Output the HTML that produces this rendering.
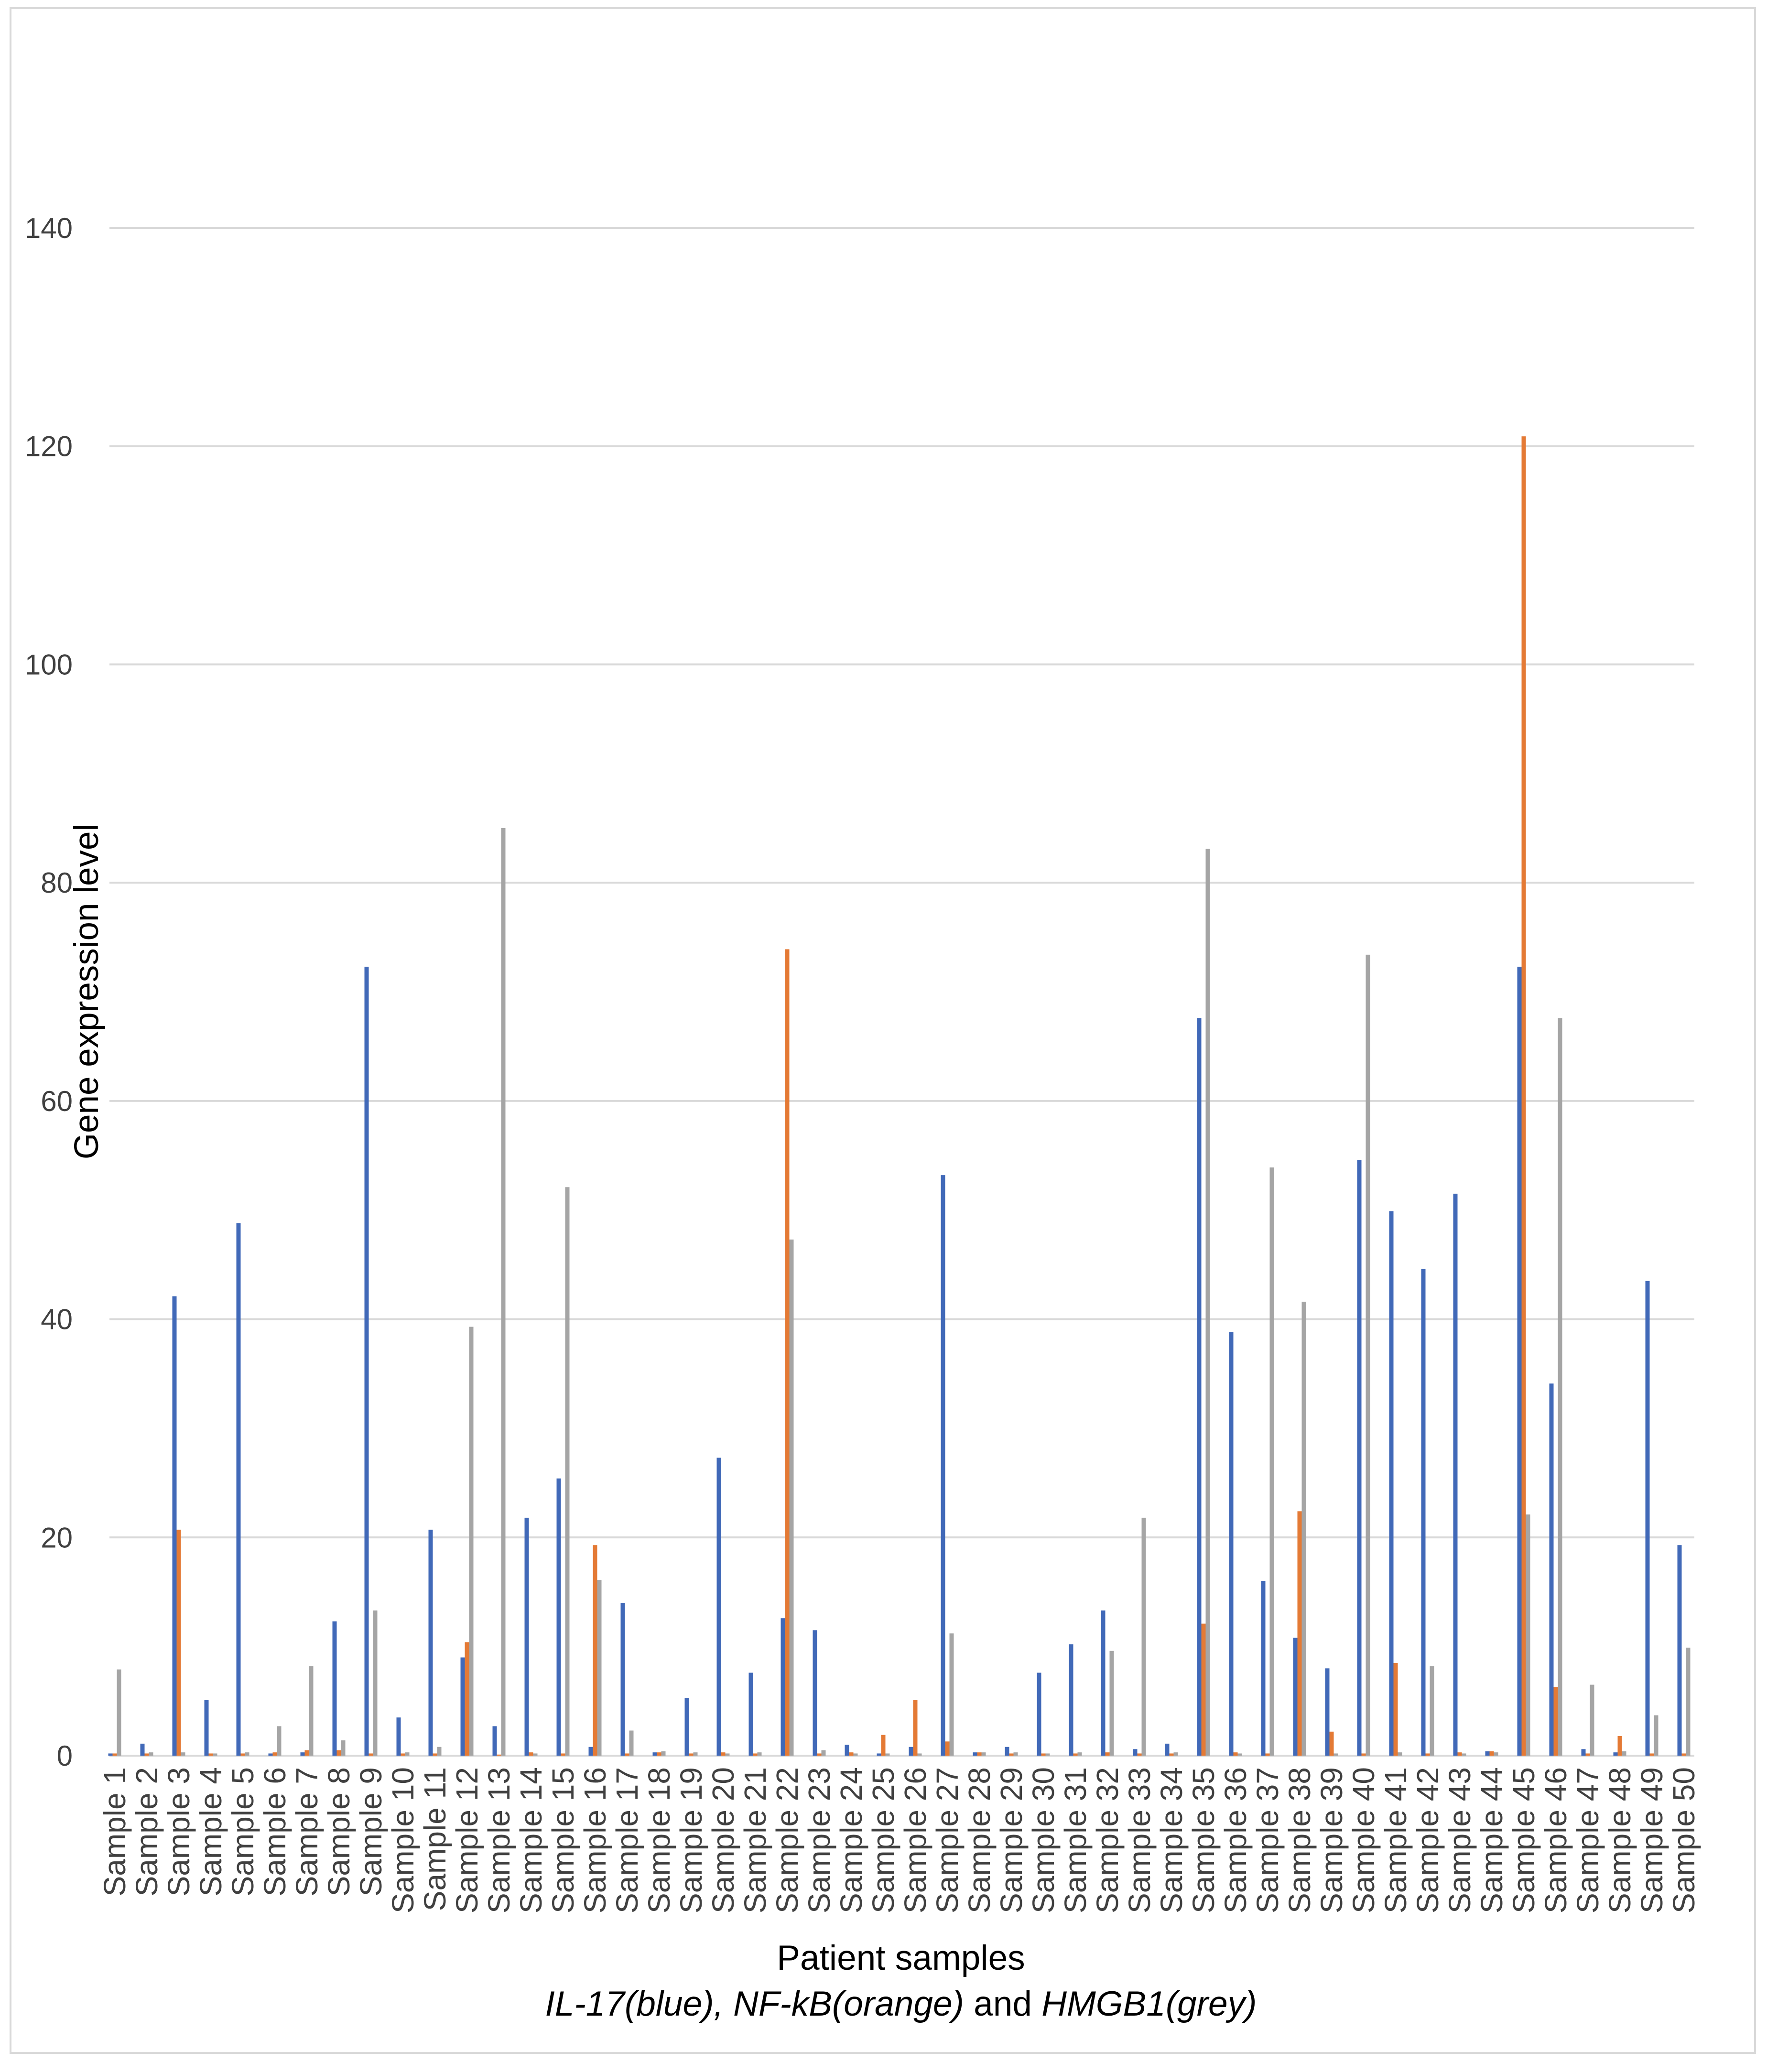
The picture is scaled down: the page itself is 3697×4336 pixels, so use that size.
<!DOCTYPE html>
<html><head><meta charset="utf-8"><style>
html,body{margin:0;padding:0;background:#fff;}
svg{display:block;font-family:"Liberation Sans",sans-serif;}
</style></head><body>
<svg id="chart" width="3697" height="4336" viewBox="0 0 3697 4336">
<rect x="22" y="17" width="3650" height="4279" fill="#fff" stroke="#d9d9d9" stroke-width="4"/>
<g id="grid"></g><g id="bars"></g><g id="xlabels"></g>
<text transform="translate(205,2075) rotate(-90)" text-anchor="middle" font-size="71" fill="#000">Gene expression level</text>
<text x="1885" y="4122" text-anchor="middle" font-size="73" fill="#000">Patient samples</text>
<text x="1885" y="4218" text-anchor="middle" font-size="73" fill="#000"><tspan font-style="italic">IL-17(blue), NF-kB(orange)</tspan> and <tspan font-style="italic">HMGB1(grey)</tspan></text>
</svg>
<script>
const categories = Array.from({length:50},(_,i)=>'Sample '+(i+1));
const il17 = [0.2,1.1,42.1,5.1,48.8,0.2,0.3,12.3,72.3,3.5,20.7,9.0,2.7,21.8,25.4,0.8,14.0,0.3,5.3,27.3,7.6,12.6,11.5,1.0,0.2,0.8,53.2,0.3,0.8,7.6,10.2,13.3,0.6,1.1,67.6,38.8,16.0,10.8,8.0,54.6,49.9,44.6,51.5,0.4,72.3,34.1,0.6,0.3,43.5,19.3];
const nfkb = [0.2,0.2,20.7,0.2,0.2,0.3,0.5,0.5,0.2,0.2,0.2,10.4,0.1,0.3,0.2,19.3,0.2,0.3,0.2,0.3,0.2,73.9,0.2,0.3,1.9,5.1,1.3,0.3,0.2,0.2,0.2,0.3,0.2,0.2,12.1,0.3,0.2,22.4,2.2,0.2,8.5,0.2,0.3,0.4,120.9,6.3,0.2,1.8,0.2,0.2];
const hmgb1 = [7.9,0.3,0.3,0.2,0.3,2.7,8.2,1.4,13.3,0.3,0.8,39.3,85,0.2,52.1,16.1,2.3,0.4,0.3,0.2,0.3,47.3,0.5,0.2,0.2,0.2,11.2,0.3,0.3,0.2,0.3,9.6,21.8,0.3,83.1,0.2,53.9,41.6,0.2,73.4,0.3,8.2,0.2,0.3,22.1,67.6,6.5,0.4,3.7,9.9];
const yTicks = [0,20,40,60,80,100,120,140];

const NS='http://www.w3.org/2000/svg';
const y0=3674, yTop=477, yMax=140;
const yScale=v=>y0-(v/yMax)*(y0-yTop);
const xCenter=i=>240+i*67.0;
const gx1=229, gx2=3545;
const grid=document.getElementById('grid');
yTicks.forEach(t=>{
  const l=document.createElementNS(NS,'line');
  
  
  l.setAttribute('x1',gx1);l.setAttribute('x2',gx2);
  l.setAttribute('y1',yScale(t));l.setAttribute('y2',yScale(t));
  l.setAttribute('stroke','#d9d9d9');l.setAttribute('stroke-width','4');
  grid.appendChild(l);
  const tx=document.createElementNS(NS,'text');
  
  
  tx.setAttribute('x',152);tx.setAttribute('y',yScale(t)+21);
  tx.setAttribute('text-anchor','end');tx.setAttribute('font-size','60');
  tx.setAttribute('fill','#404040');
  tx.textContent=t;
  grid.appendChild(tx);
});
const bars=document.getElementById('bars');
const series=[[il17,'#4169b8',-9,'il17'],[nfkb,'#e47a35',0,'nfkb'],[hmgb1,'#a5a5a5',9,'hmgb1']];
const bw=9;
categories.forEach((c,i)=>{
  series.forEach(([arr,col,off,nm])=>{
    const v=arr[i];
    const r=document.createElementNS(NS,'rect');
    
    
    r.setAttribute('x',xCenter(i)+off-bw/2);
    r.setAttribute('y',yScale(v));
    r.setAttribute('width',bw);
    r.setAttribute('height',Math.max(0,y0-yScale(v)));
    r.setAttribute('fill',col);
    bars.appendChild(r);
  });
  const t=document.createElementNS(NS,'text');
  
  
  t.setAttribute('transform','translate('+(xCenter(i)+22)+',3698) rotate(-90)');
  t.setAttribute('text-anchor','end');t.setAttribute('font-size','64');
  t.setAttribute('fill','#404040');
  t.textContent=c;
  document.getElementById('xlabels').appendChild(t);
});
</script>
</body></html>
